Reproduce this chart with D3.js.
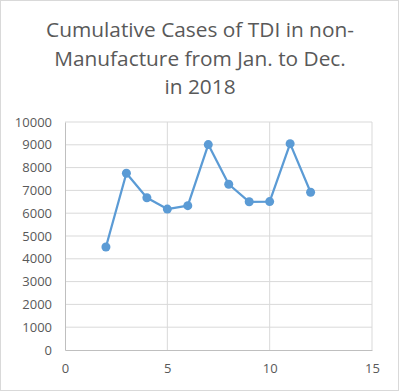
<!DOCTYPE html>
<html>
<head>
<meta charset="utf-8">
<script src="https://cdn.jsdelivr.net/npm/d3@7"></script>
<style>
  body { margin: 0; background: #fff; }
  text { font-family: "Open Sans", "Noto Sans", sans-serif; fill: #595959; }
</style>
</head>
<body>
<div id="chart"></div>
<script>
// Chart size and plot margins
const width = 399;
const height = 391;
const margin = { top: 122, right: 27, bottom: 41, left: 65 };

// Data
const titleLines = ["Cumulative Cases of TDI in non-", "Manufacture from Jan. to Dec.", "in 2018"];
const months = [2, 3, 4, 5, 6, 7, 8, 9, 10, 11, 12];
const cases = [4520, 7750, 6680, 6180, 6330, 9010, 7270, 6500, 6510, 9050, 6920];
const xTicks = [0, 5, 10, 15];
const yTicks = [0, 1000, 2000, 3000, 4000, 5000, 6000, 7000, 8000, 9000, 10000];

const data = months.map((m, i) => ({ month: m, value: cases[i] }));

// Scales
const x = d3.scaleLinear()
  .domain([0, 15])
  .range([margin.left, width - margin.right]);

const y = d3.scaleLinear()
  .domain([0, 10000])
  .range([height - margin.bottom, margin.top]);

const svg = d3.select("#chart")
  .append("svg")
  .attr("width", width)
  .attr("height", height);

// Outer border
svg.append("rect")
  .attr("x", 0.5).attr("y", 0.5)
  .attr("width", width - 1).attr("height", height - 1)
  .attr("fill", "#fff")
  .attr("stroke", "#d9d9d9");

// Title, scaled to fit the reference width
const title = svg.append("g");
titleLines.forEach((t, i) => {
  title.append("text")
    .attr("x", 200)
    .attr("y", 37 + i * 28.5)
    .attr("text-anchor", "middle")
    .attr("font-size", 20)
    .text(t);
});
const firstLine = title.select("text").node();
const w = firstLine.getComputedTextLength();
title.selectAll("text").attr("font-size", 20 * 308 / w);

// Gridlines
svg.append("g")
  .selectAll("line")
  .data(yTicks.filter(d => d > 0))
  .join("line")
  .attr("x1", x(0)).attr("x2", x(15))
  .attr("y1", d => y(d)).attr("y2", d => y(d))
  .attr("stroke", "#d9d9d9");

svg.append("g")
  .selectAll("line")
  .data(xTicks.filter(d => d > 0))
  .join("line")
  .attr("x1", d => x(d)).attr("x2", d => x(d))
  .attr("y1", y(0)).attr("y2", y(10000))
  .attr("stroke", "#d9d9d9");

// Axes
const xAxis = d3.axisBottom(x).tickValues(xTicks).tickSize(0).tickPadding(14);
const yAxis = d3.axisLeft(y).tickValues(yTicks).tickFormat(d3.format("d")).tickSize(0).tickPadding(13);

svg.append("g")
  .attr("transform", `translate(0, ${y(0)})`)
  .call(xAxis)
  .call(g => g.select(".domain").attr("stroke", "#bfbfbf"))
  .call(g => g.selectAll("text").attr("font-size", 13).attr("fill", "#595959"));

svg.append("g")
  .attr("transform", `translate(${x(0)}, 0)`)
  .call(yAxis)
  .call(g => g.select(".domain").attr("stroke", "#bfbfbf"))
  .call(g => g.selectAll("text").attr("font-size", 13).attr("fill", "#595959"));

svg.selectAll(".tick text").style("font-family", "'Open Sans', sans-serif");

// Line and markers
const line = d3.line()
  .x(d => x(d.month))
  .y(d => y(d.value));

svg.append("path")
  .datum(data)
  .attr("fill", "none")
  .attr("stroke", "#5b9bd5")
  .attr("stroke-width", 2.25)
  .attr("stroke-linejoin", "round")
  .attr("d", line);

svg.append("g")
  .selectAll("circle")
  .data(data)
  .join("circle")
  .attr("cx", d => x(d.month))
  .attr("cy", d => y(d.value))
  .attr("r", 4.5)
  .attr("fill", "#5b9bd5");
</script>
</body>
</html>
